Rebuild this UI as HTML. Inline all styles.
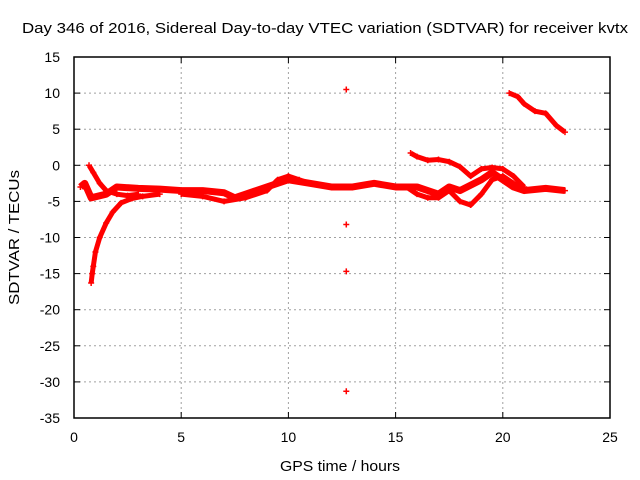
<!DOCTYPE html>
<html><head><meta charset="utf-8"><style>
body{margin:0;background:#fff}
svg{display:block;font-family:"Liberation Sans",sans-serif}
</style></head><body>
<svg id="c" width="640" height="480">
<text x="22" y="33" font-size="14.5" textLength="606" lengthAdjust="spacingAndGlyphs">Day 346 of 2016, Sidereal Day-to-day VTEC variation (SDTVAR) for receiver kvtx</text>
<text x="280" y="471" font-size="14.5" textLength="120" lengthAdjust="spacingAndGlyphs">GPS time / hours</text>
<text transform="translate(19,305) rotate(-90)" font-size="14.5" textLength="135" lengthAdjust="spacingAndGlyphs">SDTVAR / TECUs</text>
<g id="grid"></g><g id="marks"></g>
<rect x="74" y="57" width="536" height="361" fill="none" stroke="#000" stroke-width="1.5"/>
</svg>
<script>
const xTicks=[0,5,10,15,20,25];
const yTicks=[15,10,5,0,-5,-10,-15,-20,-25,-30,-35];
const bandMain=[[0.3,-3],[0.5,-2.5],[0.8,-4.5],[1.5,-4],[2,-3],[3,-3.2],[4,-3.3],[5,-3.5],[6,-3.5],[7,-3.8],[7.5,-4.5],[8,-4],[9,-3],[10,-2],[11,-2.5],[12,-3],[12.7,-3],[13,-3],[14,-2.5],[15,-3],[16,-3],[16.5,-3.5],[17,-4],[17.5,-3],[18,-3.5],[19,-2],[19.5,-1],[20,-2],[20.5,-3],[21,-3.5],[22,-3.2],[22.9,-3.5]];
const recovery=[[0.8,-16.3],[0.85,-15],[0.9,-14],[1.0,-12],[1.2,-10],[1.5,-8],[1.8,-6.5],[2.2,-5.2],[2.7,-4.6],[3.2,-4.3],[4,-4]];
const dropCurve=[[0.7,0],[0.9,-1],[1.2,-2.5],[1.5,-3.5],[2,-4],[2.5,-4.2],[3,-4]];
const lowerBand=[[5,-4],[6,-4.3],[7,-5],[8,-4.5],[9,-3.5],[9.5,-2],[10,-1.5],[10.5,-2],[11,-2.5]];
const riseSeries=[[15.7,1.7],[16,1.2],[16.5,0.7],[17,0.8],[17.5,0.5],[18,-0.2],[18.5,-1.5],[19,-0.5],[19.5,-0.3],[20,-0.5],[20.5,-1.5],[21,-3]];
const dipSeries=[[15.5,-3],[16,-4],[16.5,-4.5],[17,-4.5],[17.5,-3.5],[18,-5],[18.5,-5.5],[19,-4],[19.5,-2],[20,-1.5],[20.5,-2.5],[21,-3.2]];
const topSeries=[[20.3,10],[20.7,9.5],[21,8.5],[21.5,7.5],[22,7.2],[22.5,5.5],[22.9,4.6]];
const outliers=[[12.7,10.5],[12.7,-8.2],[12.7,-14.7],[12.7,-31.3]];
const L=74,R=610,T=57,B=418;
const xs=v=>L+(v-0)/25*(R-L), ys=v=>T+(15-v)/50*(B-T);
const NS='http://www.w3.org/2000/svg';
const g=document.getElementById('grid'), m=document.getElementById('marks'), svg=document.getElementById('c');
function el(t,a,p){const e=document.createElementNS(NS,t);for(const k in a)e.setAttribute(k,a[k]);p.appendChild(e);return e;}
xTicks.forEach(v=>{const x=xs(v);
 if(v>0&&v<25){const l=el('line',{x1:x,x2:x,y1:T,y2:B,stroke:'#a0a0a0','stroke-dasharray':'2,3'},g);}
 const t=el('text',{x:x,y:B+24,'font-size':14,'text-anchor':'middle'},svg);t.textContent=v;
 
 
 el('line',{x1:x,x2:x,y1:B,y2:B-6,stroke:'#000'},g);el('line',{x1:x,x2:x,y1:T,y2:T+6,stroke:'#000'},g);
});
yTicks.forEach(v=>{const y=ys(v);
 if(v<15&&v>-35){const l=el('line',{x1:L,x2:R,y1:y,y2:y,stroke:'#a0a0a0','stroke-dasharray':'2,3'},g);}
 const t=el('text',{x:L-14,y:y+5,'font-size':14,'text-anchor':'end'},svg);t.textContent=v;
 
 
 el('line',{x1:L,x2:L+6,y1:y,y2:y,stroke:'#000'},g);el('line',{x1:R,x2:R-6,y1:y,y2:y,stroke:'#000'},g);
});
function plus(x,y){el('path',{d:`M${x-3},${y}h6M${x},${y-3}v6`,stroke:'#f00','stroke-width':1.5},m);}
function series(arr,name,w){
 const p=el('polyline',{points:arr.map(d=>xs(d[0])+','+ys(d[1])).join(' '),fill:'none',stroke:'#f00','stroke-width':w,'stroke-linejoin':'round'},m);
 
 
 arr.forEach(d=>plus(xs(d[0]),ys(d[1])));
}
series(bandMain,'series-main-band',7);
series(recovery,'series-recovery',5);
series(dropCurve,'series-drop',5);
series(lowerBand,'series-lower-band',5);
series(riseSeries,'series-rise',5);
series(dipSeries,'series-dip',5);
series(topSeries,'series-top',5);
outliers.forEach(d=>plus(xs(d[0]),ys(d[1])));
</script>
</body></html>
